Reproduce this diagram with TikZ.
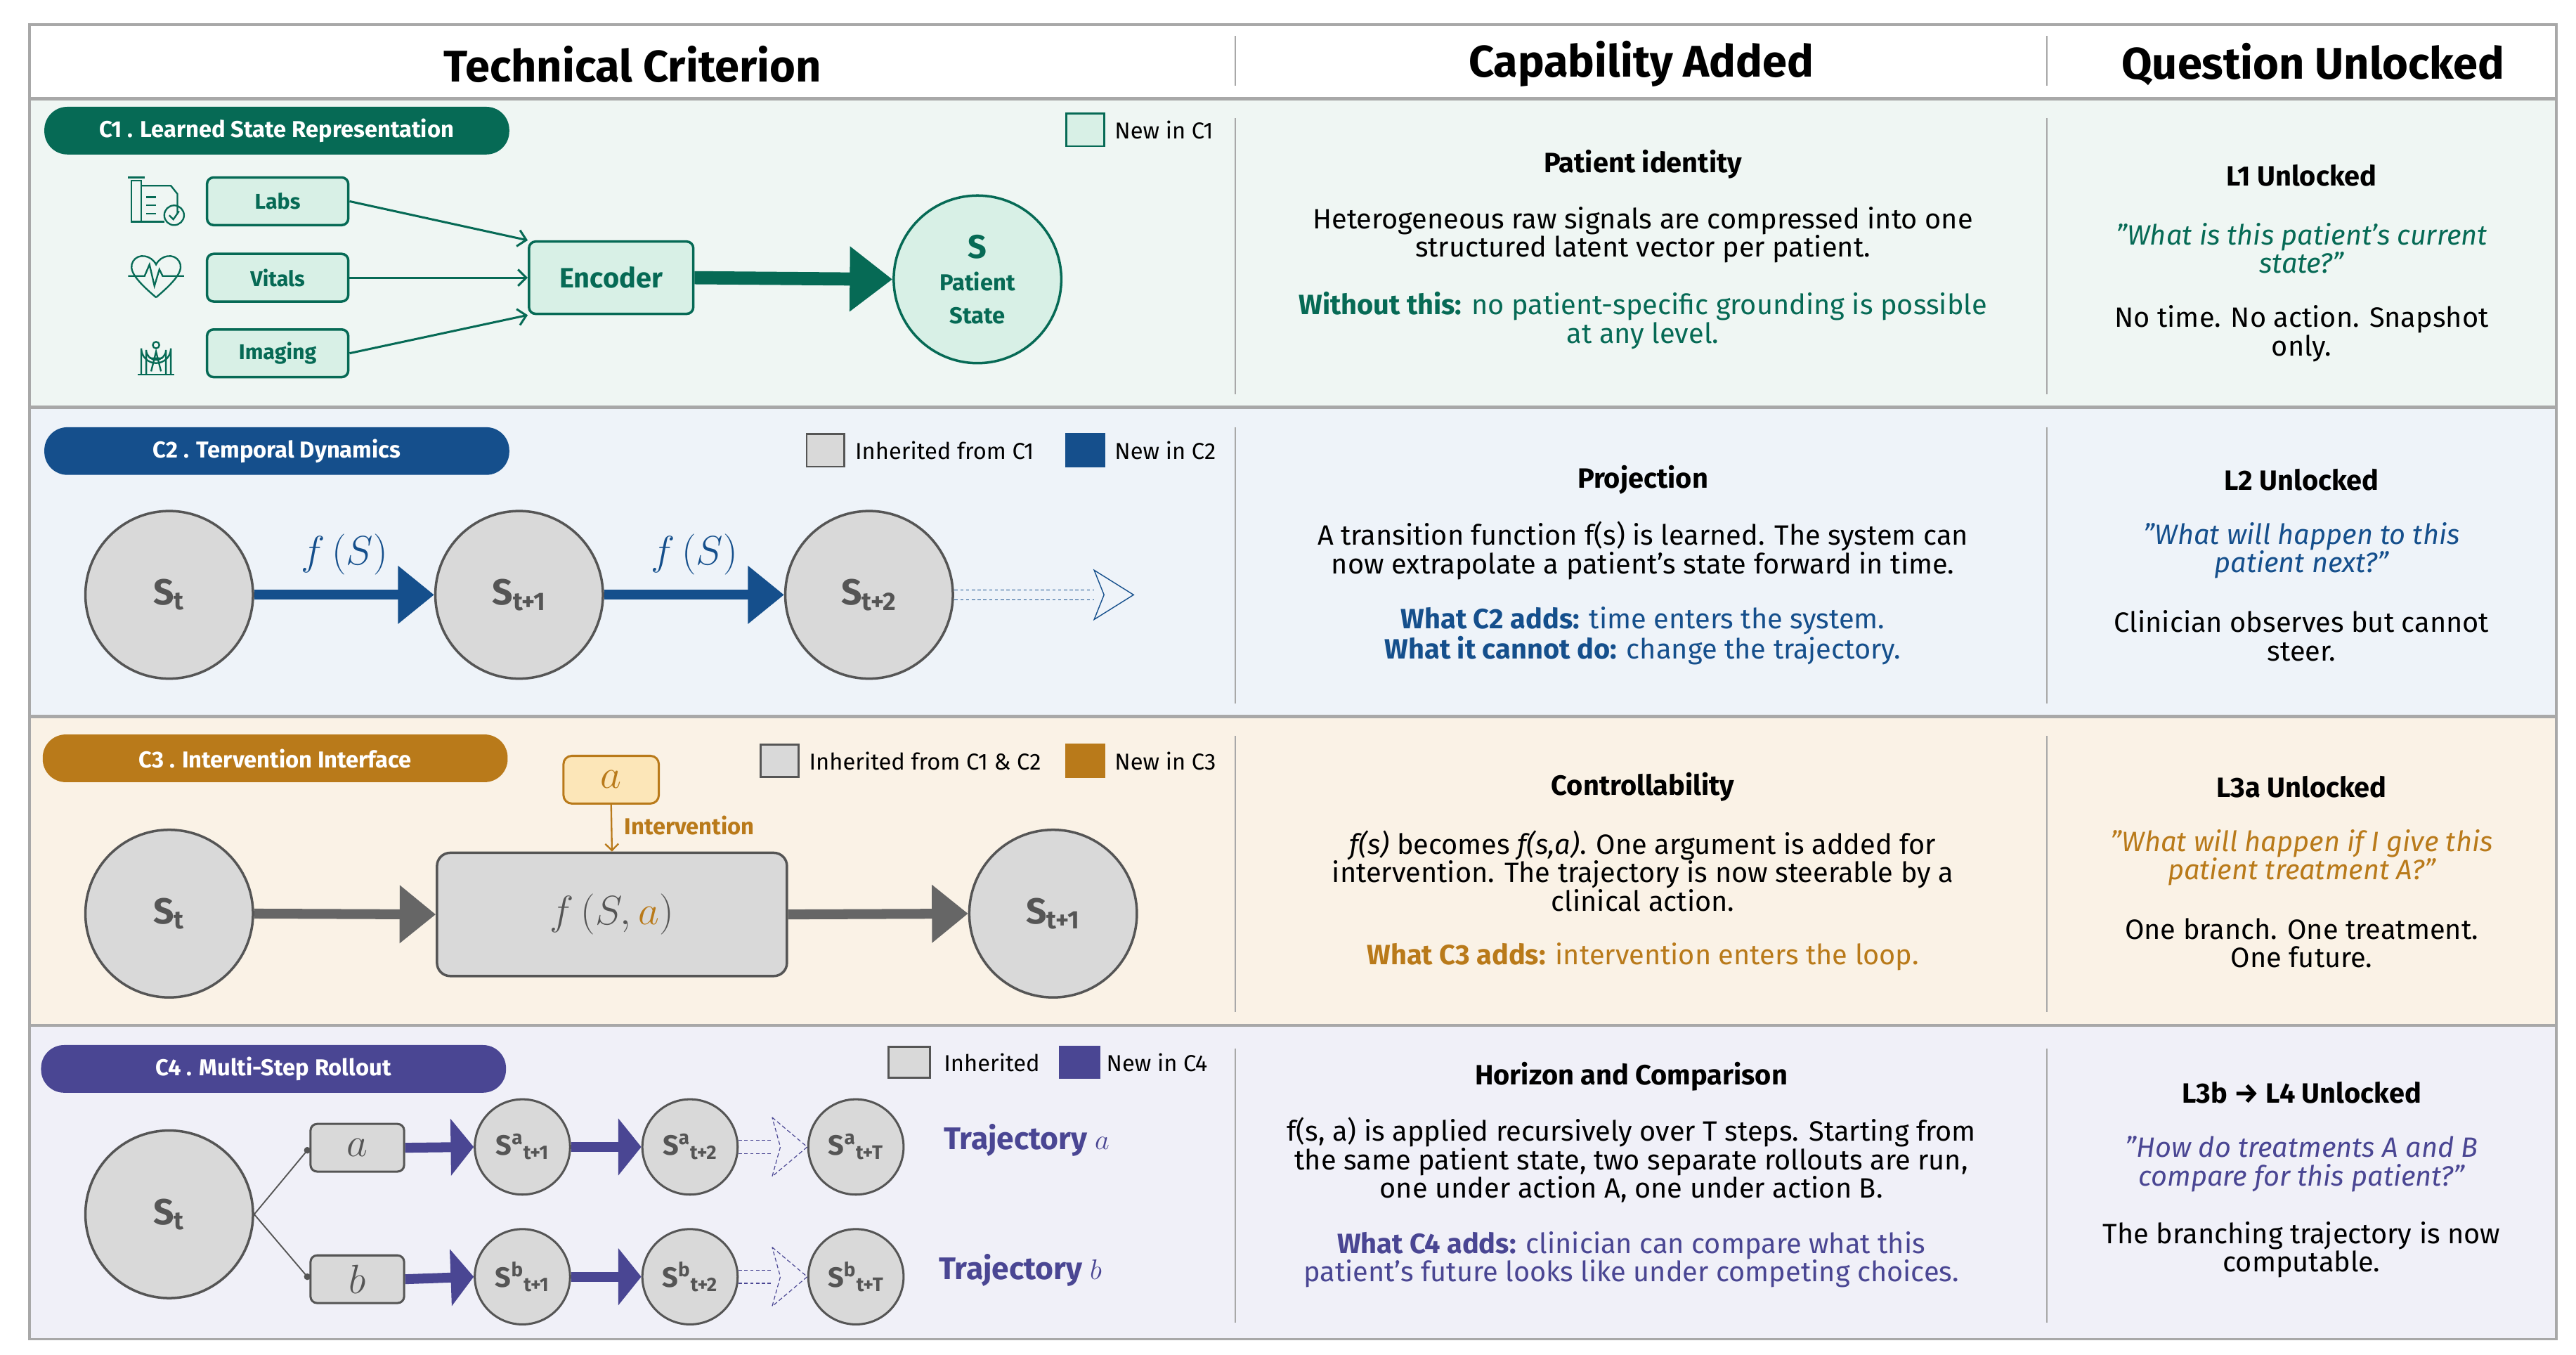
\documentclass[tikz,border=0pt]{standalone}
\usepackage{fontspec}
\setmainfont{Fira Sans}
\usetikzlibrary{arrows.meta}
\definecolor{cg}{HTML}{066A55}\definecolor{cgl}{HTML}{D8F0E6}\definecolor{bg1}{HTML}{EFF6F3}
\definecolor{cb}{HTML}{154F8C}\definecolor{bg2}{HTML}{EEF3F9}
\definecolor{co}{HTML}{B97A1A}\definecolor{col}{HTML}{FCE6B8}\definecolor{bg3}{HTML}{FAF2E6}
\definecolor{cp}{HTML}{4A4693}\definecolor{bg4}{HTML}{F0F0F8}
\definecolor{gf}{HTML}{D9D9D9}\definecolor{gd}{HTML}{555555}\definecolor{sep}{HTML}{A8A8A8}
\begin{document}
\begin{tikzpicture}[x=1pt,y=-1pt,
 pill/.style={rounded corners=14pt,minimum width=283pt,minimum height=29pt,text=white,font=\bfseries\fontsize{14}{16}\selectfont},
 st/.style={circle,minimum size=102pt,inner sep=0pt,fill=gf,draw=gd,line width=1.5pt,text=gd,font=\bfseries\fontsize{22}{24}\selectfont},
 sm/.style={circle,minimum size=58pt,inner sep=0pt,fill=gf,draw=gd,line width=1.3pt,text=gd,font=\bfseries\fontsize{17}{18}\selectfont},
 gbox/.style={draw=cg,fill=cgl,line width=1.5pt,rounded corners=4pt,text=cg,font=\bfseries\fontsize{13}{15}\selectfont},
 txt/.style={align=center,font=\fontsize{17}{17.3}\selectfont},
 hd/.style={font=\bfseries\fontsize{17}{18}\selectfont},
 lg/.style={anchor=west,font=\fontsize{14}{16}\selectfont},
 thickarr/.style={line width=6pt,-{Triangle[length=22pt,width=34pt]}},
 vsep/.style={draw=sep,line width=1pt}]
\useasboundingbox (0,0) rectangle (1568,824.6);
\fill[white] (0,0) rectangle (1568,824.6);
% backgrounds
\fill[bg1] (18,60) rectangle (1556,248);
\fill[bg2] (18,248) rectangle (1556,436);
\fill[bg3] (18,436) rectangle (1556,624);
\fill[bg4] (18,624) rectangle (1556,815);
\foreach \y in {60,248,436,624} \draw[sep,line width=2pt] (18,\y) -- (1556,\y);
\draw[sep,line width=1.5pt] (18,15) rectangle (1556,815);
\draw[sep,line width=1pt] (752,22) -- (752,52) (1246,22) -- (1246,52);
\foreach \a/\b in {72/240,260/428,448/616,638/805}{\draw[vsep] (752,\a) -- (752,\b); \draw[vsep] (1246,\a) -- (1246,\b);}
% headers
\node[font=\bfseries\fontsize{27}{30}\selectfont] (h1) at (385,39) {Technical Criterion};
\node[font=\bfseries\fontsize{27}{30}\selectfont] (h2) at (999,39) {Capability Added};
\node[font=\bfseries\fontsize{27}{30}\selectfont] (h3) at (1408,39) {Question Unlocked};

%%%% Row 1
\node[pill,fill=cg] (p1) at (168.5,79.5) {C1 . Learned State Representation};
\draw[cg,fill=cgl,line width=1.2pt] (649,69) rectangle (672,89);
\node[lg] (l1) at (675,79) {New in C1};
\node[gbox,minimum width=86pt,minimum height=29pt] (labs) at (169,122.5) {Labs};
\node[gbox,minimum width=86pt,minimum height=29pt] (vit) at (169,169) {Vitals};
\node[gbox,minimum width=86pt,minimum height=29pt] (img) at (169,215) {Imaging};
\node[gbox,minimum width=100pt,minimum height=44pt,font=\bfseries\fontsize{17}{18}\selectfont] (enc) at (372,169) {Encoder};
\node[circle,minimum size=102pt,fill=cgl,draw=cg,line width=1.5pt,text=cg,align=center,inner sep=0pt,font=\bfseries\fontsize{14}{20}\selectfont] (S) at (595,170) {{\fontsize{20}{20}\selectfont S}\\Patient\\State};
\draw[cg,line width=1.3pt,-{Straight Barb[length=5pt]}] (labs.east) -- (enc.north west);
\draw[cg,line width=1.3pt,-{Straight Barb[length=5pt]}] (vit.east) -- (enc.west);
\draw[cg,line width=1.3pt,-{Straight Barb[length=5pt]}] (img.east) -- (enc.south west);
\draw[cg,line width=8pt,-{Triangle[length=26pt,width=38pt]}] (enc.east) -- (S.west);
% icons
\begin{scope}[cg,line width=1pt]
 \draw (80,110) rectangle (86,135); \draw (78,108) -- (88,108);
 \draw (86,113) -- (104,113) -- (108,118) -- (108,130); \draw (86,135) -- (100,135);
 \draw (89,120)--(95,120) (89,125)--(95,125) (89,130)--(95,130);
 \draw (106,131) circle (6); \draw (103,131) -- (105.5,133.5) -- (109,128.5);
 \draw (95,181) .. controls (82,170) and (78,164) .. (81,159) .. controls (84,154) and (92,155) .. (95,161) .. controls (98,155) and (106,154) .. (109,159) .. controls (112,164) and (108,170) .. (95,181);
 \draw (78,168) -- (88,168) -- (91,161) -- (94,174) -- (97,164) -- (99,168) -- (112,168);
 \draw (86,228) -- (86,212) arc[start angle=180,end angle=0,radius=9] -- (104,228);
 \draw (89,228) -- (89,213) arc[start angle=180,end angle=0,radius=6] -- (101,228);
 \draw (84,228) -- (106,228); \draw (95,210) circle (2); \draw (92,226) -- (95,214) -- (98,226) (91,218) -- (99,218);
\end{scope}
% col2/3
\node[hd] (c1t) at (1000,100) {Patient identity};
\node[txt] (c1a) at (1000,143) {Heterogeneous raw signals are compressed into one\\structured latent vector per patient.};
\node[txt,text=cg] (c1b) at (1000,195) {\textbf{Without this:} no patient-specific grounding is possible\\at any level.};
\node[hd] (q1t) at (1401,107) {L1 Unlocked};
\node[txt,text=cg,font=\itshape\fontsize{17}{17.3}\selectfont] (q1a) at (1401,151) {"What is this patient's current\\state?"};
\node[txt] (q1b) at (1401,203) {No time. No action. Snapshot\\only.};

%%%% Row 2
\node[pill,fill=cb] (p2) at (168.5,274.5) {C2 . Temporal Dynamics};
\draw[gd,fill=gf,line width=1.2pt] (491,264) rectangle (514,284);
\node[lg] (l2a) at (517,274) {Inherited from C1};
\draw[cb,fill=cb,line width=1.2pt] (649,264) rectangle (672,284);
\node[lg] (l2b) at (675,274) {New in C2};
\node[st] (s0) at (103,362) {S\textsubscript{t}};
\node[st] (s1) at (316,362) {S\textsubscript{t+1}};
\node[st] (s2) at (529,362) {S\textsubscript{t+2}};
\draw[cb,thickarr] (s0.east) -- (s1.west) node[midway,above=6pt,font=\fontsize{26}{28}\selectfont] {$f\,(S)$};
\draw[cb,thickarr] (s1.east) -- (s2.west) node[midway,above=6pt,font=\fontsize{26}{28}\selectfont] {$f\,(S)$};
\coordinate (e2) at (690,362);
\draw[cb,line width=0.6pt,dash pattern=on 2pt off 1.5pt] (581,359) -- (666,359) (581,365) -- (666,365);
\draw[cb,line width=0.6pt] (666,347) -- (e2) -- (666,377) -- (672,362) -- cycle;
\node[hd] (c2t) at (1000,292) {Projection};
\node[txt] (c2a) at (1000,335) {A transition function f(s) is learned. The system can\\now extrapolate a patient's state forward in time.};
\node[txt,text=cb] (c2b) at (1000,387) {\textbf{What C2 adds:} time enters the system.\\\textbf{What it cannot do:} change the trajectory.};
\node[hd] (q2t) at (1401,292) {L2 Unlocked};
\node[txt,text=cb,font=\itshape\fontsize{17}{17.3}\selectfont] (q2a) at (1401,335) {"What will happen to this\\patient next?"};
\node[txt] (q2b) at (1401,387) {Clinician observes but cannot\\steer.};

%%%% Row 3
\node[pill,fill=co] (p3) at (167.5,461.5) {C3 . Intervention Interface};
\draw[gd,fill=gf,line width=1.2pt] (463,453) rectangle (486,473);
\node[lg] (l3a) at (489,463) {Inherited from C1 \& C2};
\draw[co,fill=co,line width=1.2pt] (649,453) rectangle (672,473);
\node[lg] (l3b) at (675,463) {New in C3};
\node[st] (t0) at (103,556) {S\textsubscript{t}};
\node[st] (t1) at (641,556) {S\textsubscript{t+1}};
\node[draw=gd,fill=gf,line width=1.5pt,rounded corners=8pt,minimum width=213pt,minimum height=75pt,font=\fontsize{30}{32}\selectfont,text=gd] (fb) at (372.5,556.5) {$f\,(S,\textcolor{co}{a})$};
\node[draw=co,fill=col,line width=1.3pt,rounded corners=5pt,minimum width=58pt,minimum height=29pt,text=co,font=\fontsize{30}{30}\selectfont] (ab) at (372,474.5) {$a$};
\draw[co,line width=1pt,-{Straight Barb[length=4pt]}] (ab.south) -- (fb.north) node[pos=0.45,right=4pt,font=\bfseries\fontsize{14}{16}\selectfont] {Intervention};
\draw[gd!90,thickarr] (t0.east) -- (fb.west);
\draw[gd!90,thickarr] (fb.east) -- (t1.west);
\node[hd] (c3t) at (1000,479) {Controllability};
\node[txt] (c3a) at (1000,530) {\textit{f(s)} becomes \textit{f(s,a)}. One argument is added for\\intervention. The trajectory is now steerable by a\\clinical action.};
\node[txt,text=co] (c3b) at (1000,582) {\textbf{What C3 adds:} intervention enters the loop.};
\node[hd] (q3t) at (1401,479) {L3a Unlocked};
\node[txt,text=co,font=\itshape\fontsize{17}{17.3}\selectfont] (q3a) at (1401,522) {"What will happen if I give this\\patient treatment A?"};
\node[txt] (q3b) at (1401,574) {One branch. One treatment.\\One future.};

%%%% Row 4
\node[pill,fill=cp] (p4) at (166.5,650.5) {C4 . Multi-Step Rollout};
\draw[gd,fill=gf,line width=1.2pt] (541,637) rectangle (566,656);
\node[lg] (l4a) at (571,646.5) {Inherited};
\draw[cp,fill=cp,line width=1.2pt] (645,637) rectangle (669,656);
\node[lg] (l4b) at (670,646.5) {New in C4};
\node[st] (u0) at (103,739) {S\textsubscript{t}};
\node[draw=gd,fill=gf,line width=1.3pt,rounded corners=4pt,minimum width=57pt,minimum height=29pt,text=gd,font=\fontsize{26}{26}\selectfont] (ua) at (217.5,698.5) {$a$};
\node[draw=gd,fill=gf,line width=1.3pt,rounded corners=4pt,minimum width=57pt,minimum height=29pt,text=gd,font=\fontsize{26}{26}\selectfont] (ub) at (217.5,778.5) {$b$};
\draw[gd,line width=0.8pt,-{Circle[length=4pt]}] (u0.east) -- (ua.west);
\draw[gd,line width=0.8pt,-{Circle[length=4pt]}] (u0.east) -- (ub.west);
\foreach \r/\y in {a/698,b/777}{
 \node[sm] (\r1) at (318,\y) {S\textsuperscript{\r}\textsubscript{t+1}};
 \node[sm] (\r2) at (420,\y) {S\textsuperscript{\r}\textsubscript{t+2}};
 \node[sm] (\r3) at (521,\y) {S\textsuperscript{\r}\textsubscript{t+T}};
 \draw[cp,line width=6pt,-{Triangle[length=14pt,width=34pt]}] (u\r.east) -- (\r1.west);
 \draw[cp,line width=6pt,-{Triangle[length=14pt,width=34pt]}] (\r1.east) -- (\r2.west);
 \draw[cp,line width=0.6pt,dash pattern=on 2pt off 1.5pt] (\r2.east|-0,\y-4) -- (470,\y-4) (\r2.east|-0,\y+4) -- (470,\y+4);
 \draw[cp,line width=0.5pt,dash pattern=on 2.5pt off 1.5pt] (470,\y-18) -- (\r3.west) -- (470,\y+18) -- (475,\y) -- cycle;
}
\node[anchor=west,text=cp,font=\bfseries\fontsize{19}{20}\selectfont] (ta) at (571,694) {Trajectory $a$};
\node[anchor=west,text=cp,font=\bfseries\fontsize{19}{20}\selectfont] (tb) at (568,773) {Trajectory $b$};
\node[hd] (c4t) at (993,655) {Horizon and Comparison};
\node[txt] (c4a) at (993,706) {f(s, a) is applied recursively over T steps. Starting from\\the same patient state, two separate rollouts are run,\\one under action A, one under action B.};
\node[txt,text=cp] (c4b) at (993,766.5) {\textbf{What C4 adds:} clinician can compare what this\\patient's future looks like under competing choices.};
\node[hd] (q4t) at (1401,665) {L3b → L4 Unlocked};
\node[txt,text=cp,font=\itshape\fontsize{17}{17.3}\selectfont] (q4a) at (1401,708.5) {"How do treatments A and B\\compare for this patient?"};
\node[txt] (q4b) at (1401,760.5) {The branching trajectory is now\\computable.};
\end{tikzpicture}
\end{document}
